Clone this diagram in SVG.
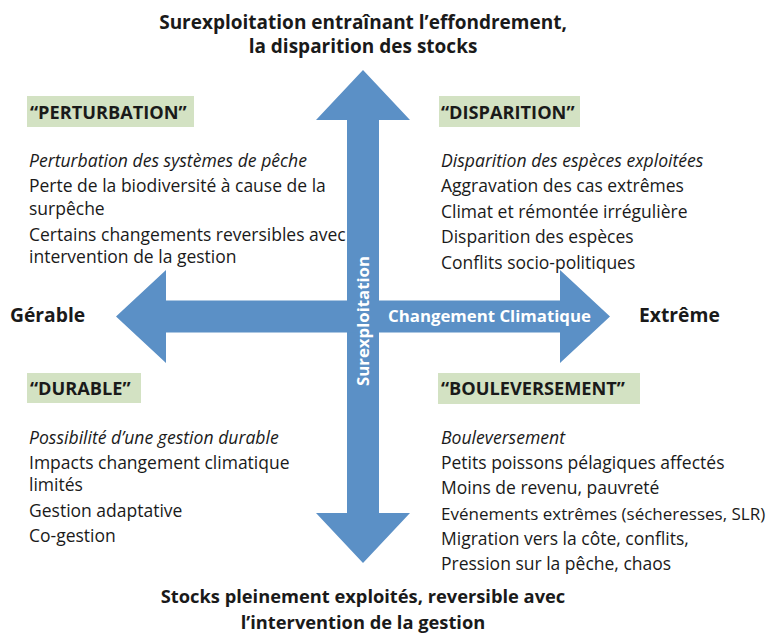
<svg xmlns="http://www.w3.org/2000/svg" width="773" height="634" viewBox="0 0 773 634">
<style>
text{font-family:"Open Sans","Noto Sans","DejaVu Sans",sans-serif;fill:#1a1a1a}
.t{font-size:19px;font-weight:bold;text-anchor:middle}
.ax{font-size:19.3px;font-weight:bold}
.lb{font-size:18.2px;font-weight:bold}
.b{font-size:17.5px}
.i{font-size:17.6px;font-style:italic}
.w{fill:#ffffff;font-size:16.8px;font-weight:bold;text-anchor:middle}
.box{fill:#d3e2c3}
.arr{fill:#5b90c6}
</style>
<rect width="773" height="634" fill="#ffffff"/>
<g id="connectors">
<polygon class="arr" points="363,70 410,120 379,120 379,513 410,513 363,563 316,513 347,513 347,120 316,120"/>
<polygon class="arr" points="116,316.5 166,270 166,300.5 560,300.5 560,270 610,316.5 560,363 560,332.5 166,332.5 166,363"/>
<text class="w" x="489.5" y="321.5">Changement Climatique</text>
<text class="w" transform="translate(369,321) rotate(-90)">Surexploitation</text>
</g>
<g id="top">
<text class="t" x="363" y="28.5">Surexploitation entraînant l’effondrement,</text>
<text class="t" x="363" y="53">la disparition des stocks</text>
</g>
<g id="bottom">
<text class="t" x="363" y="603" style="font-size:18.3px">Stocks pleinement exploités, reversible avec</text>
<text class="t" x="363" y="628.5" style="font-size:18.3px">l’intervention de la gestion</text>
</g>
<g id="left"><text class="ax" x="10" y="322">Gérable</text></g>
<g id="right"><text class="ax" x="639" y="322">Extrême</text></g>
<g id="perturbation">
<rect class="box" x="27" y="96" width="167" height="31"/>
<text class="lb" x="30" y="119">“PERTURBATION”</text>
<text class="i" x="29" y="167">Perturbation des systèmes de pêche</text>
<text class="b" x="29" y="192">Perte de la biodiversité à cause de la</text>
<text class="b" x="29" y="215">surpêche</text>
<text class="b" x="29" y="241">Certains changements reversibles avec</text>
<text class="b" x="29" y="263">intervention de la gestion</text>
</g>
<g id="disparition">
<rect class="box" x="439" y="96" width="141" height="31"/>
<text class="lb" x="441" y="119">“DISPARITION”</text>
<text class="i" x="441" y="167">Disparition des espèces exploitées</text>
<text class="b" x="441" y="192">Aggravation des cas extrêmes</text>
<text class="b" x="441" y="218">Climat et rémontée irrégulière</text>
<text class="b" x="441" y="243">Disparition des espèces</text>
<text class="b" x="441" y="269">Conflits socio-politiques</text>
</g>
<g id="durable">
<rect class="box" x="27" y="373" width="114" height="30"/>
<text class="lb" x="30" y="395">“DURABLE”</text>
<text class="i" x="29" y="444">Possibilité d’une gestion durable</text>
<text class="b" x="29" y="469">Impacts changement climatique</text>
<text class="b" x="29" y="491">limités</text>
<text class="b" x="29" y="517">Gestion adaptative</text>
<text class="b" x="29" y="542">Co-gestion</text>
</g>
<g id="bouleversement">
<rect class="box" x="438" y="373" width="202" height="31"/>
<text class="lb" x="441" y="395">“BOULEVERSEMENT”</text>
<text class="i" x="441" y="444">Bouleversement</text>
<text class="b" x="441" y="469">Petits poissons pélagiques affectés</text>
<text class="b" x="441" y="494">Moins de revenu, pauvreté</text>
<text class="b" x="441" y="520" style="font-size:17px">Evénements extrêmes (sécheresses, SLR)</text>
<text class="b" x="441" y="545">Migration vers la côte, conflits,</text>
<text class="b" x="441" y="570">Pression sur la pêche, chaos</text>
</g>
</svg>
